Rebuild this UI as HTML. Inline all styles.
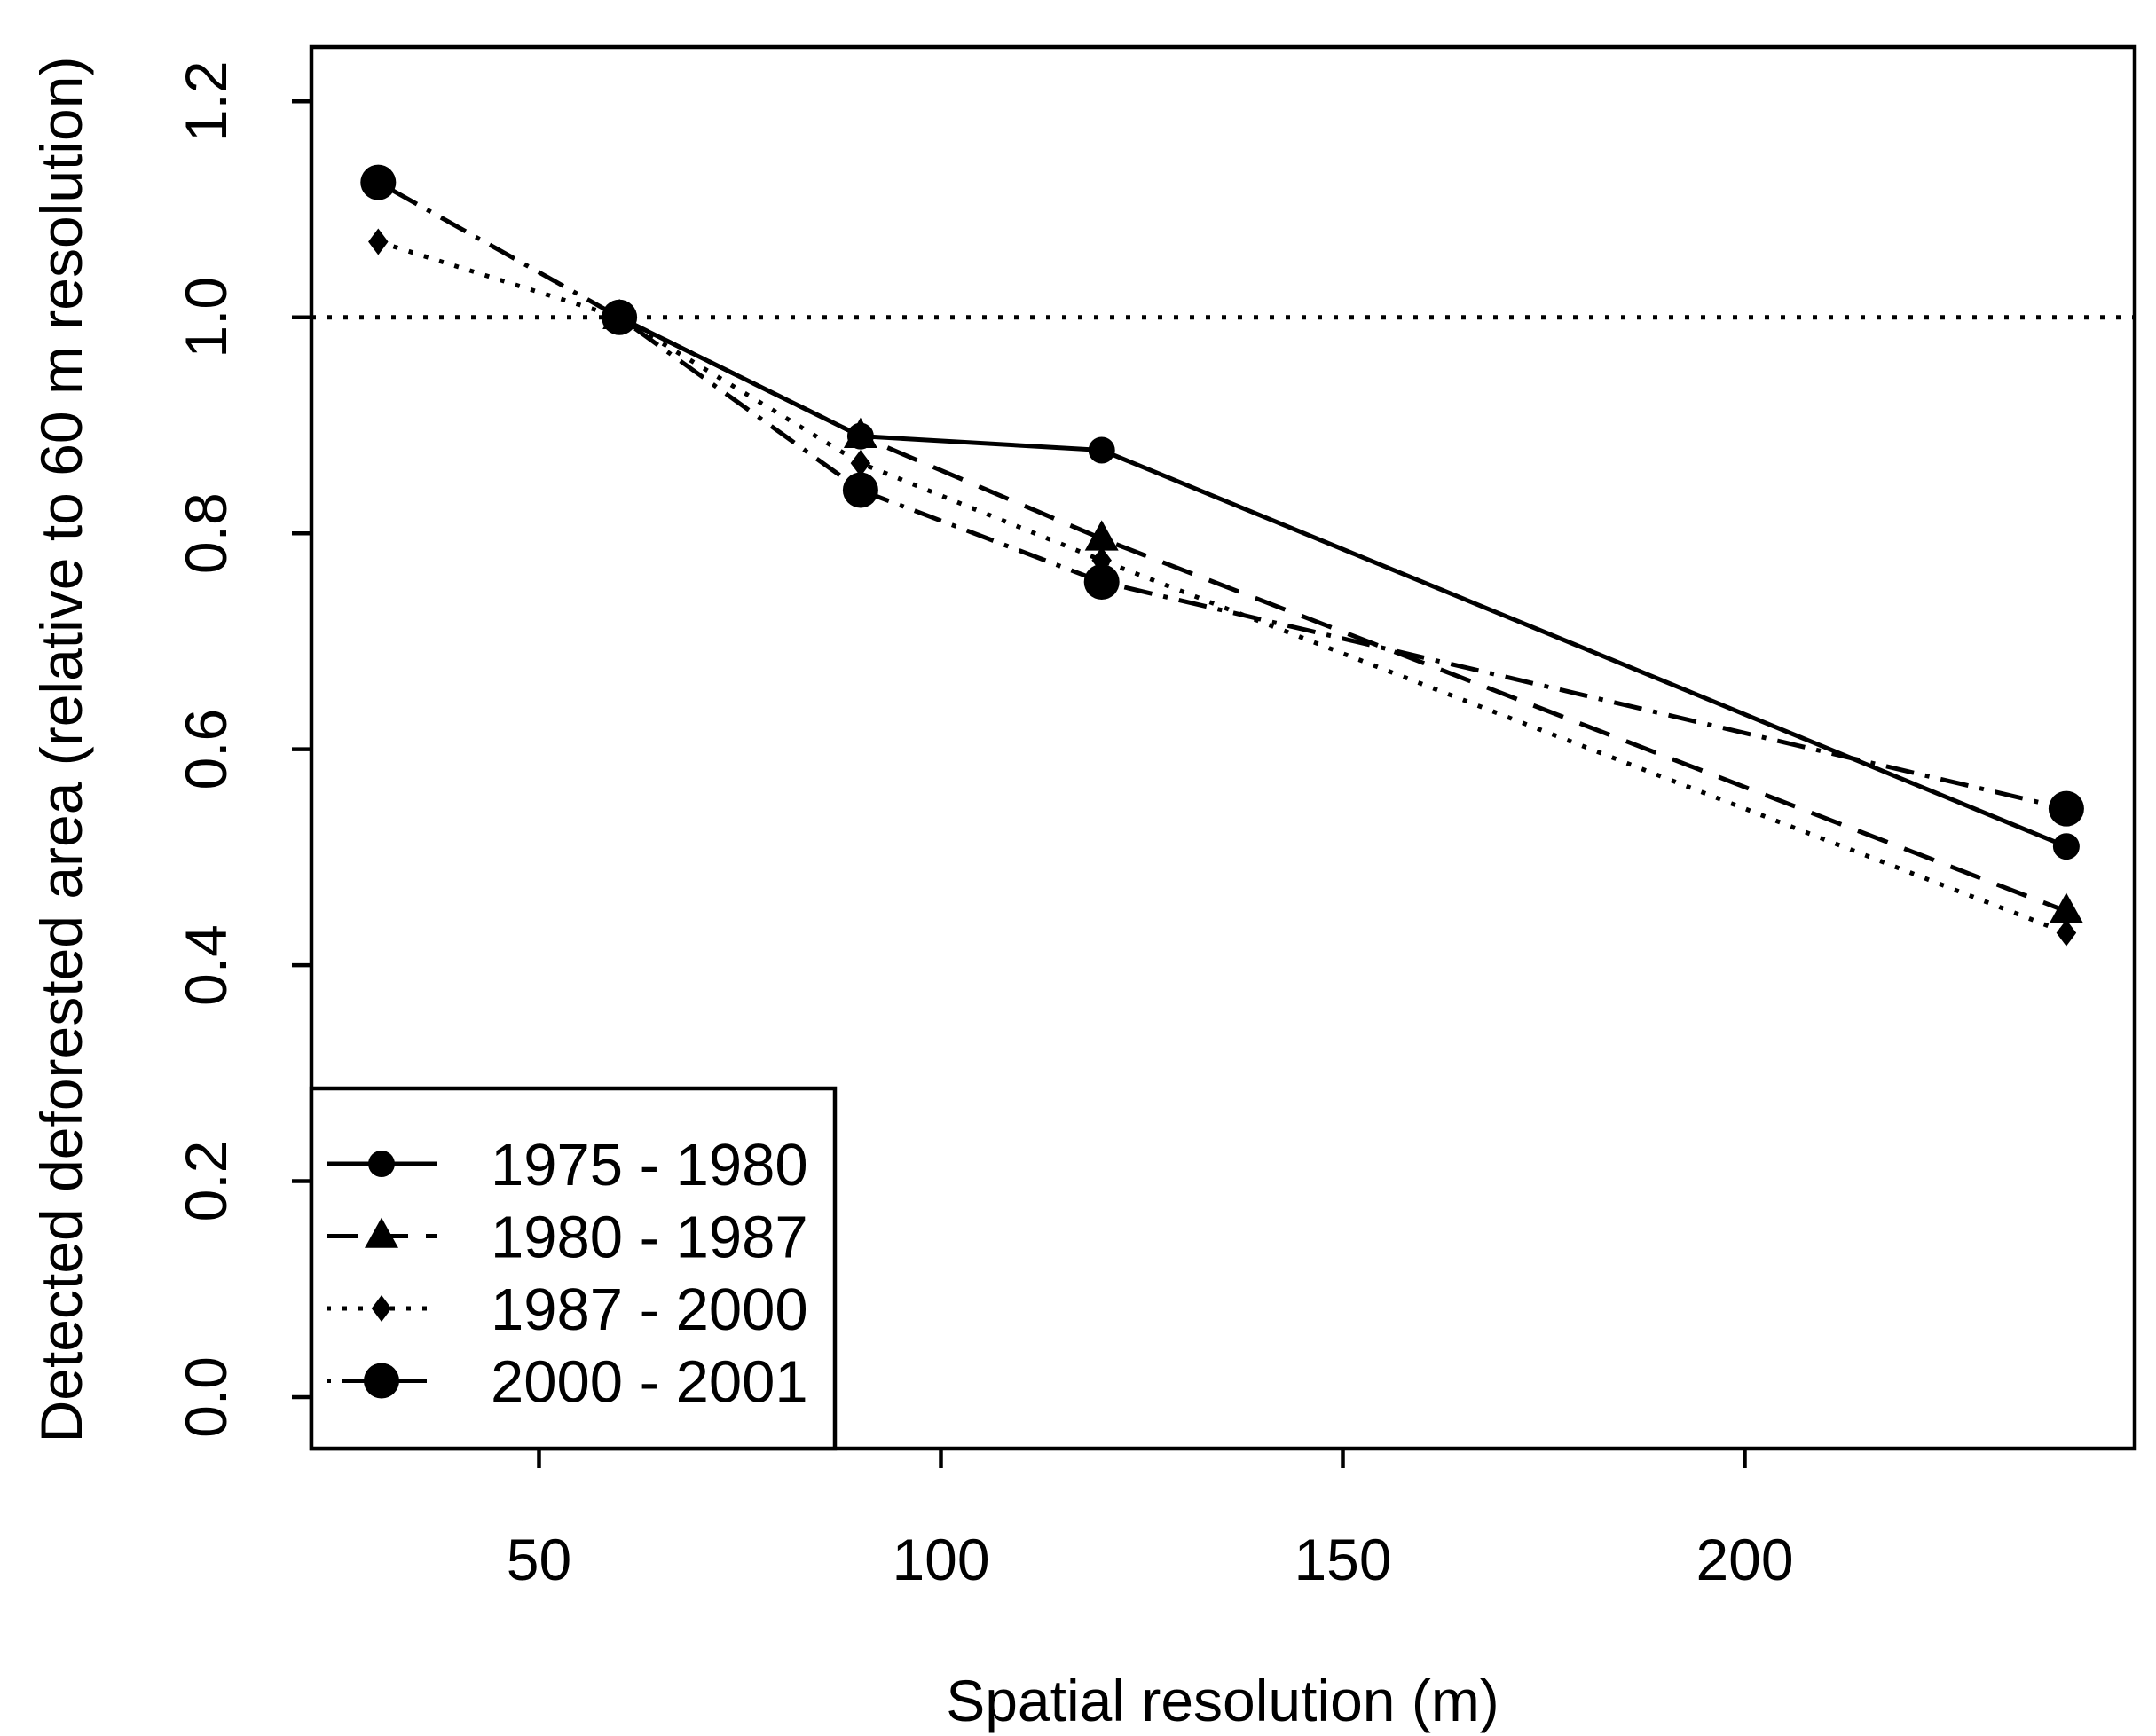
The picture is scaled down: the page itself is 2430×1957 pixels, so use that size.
<!DOCTYPE html>
<html><head><meta charset="utf-8"><style>
html,body{margin:0;padding:0;background:#fff}
svg{display:block}
text{font-family:"Liberation Sans",sans-serif;fill:#000}
</style></head><body>
<svg id="chart" width="2430" height="1957" viewBox="0 0 2430 1957" xmlns="http://www.w3.org/2000/svg">
<rect x="351" y="53" width="2055" height="1580" fill="none" stroke="#000" stroke-width="4.5"/>
<g id="xaxis"></g>
<g id="yaxis"></g>
<g id="series"></g>
<text x="1378" y="1940" font-size="66" text-anchor="middle">Spatial resolution (m)</text>
<text transform="translate(92,845) rotate(-90)" font-size="66" text-anchor="middle">Detected deforested area (relative to 60 m resolution)</text>
<g id="legend">
<rect x="351" y="1227" width="590" height="406" fill="#fff" stroke="#000" stroke-width="4.5"/>
</g>
</svg>
<script>
const xTicks=[50,100,150,200];
const yTicks=[0.0,0.2,0.4,0.6,0.8,1.0,1.2];
const yTickLabels=["0.0","0.2","0.4","0.6","0.8","1.0","1.2"];
const seriesNames=["1975 - 1980","1980 - 1987","1987 - 2000","2000 - 2001"];
const x1=[60,90,120,240];
const y1=[1.0,0.89,0.877,0.51];
const x2=[60,90,120,240];
const y2=[1.0,0.89,0.795,0.45];
const x3=[30,60,90,120,240];
const y3=[1.07,1.0,0.865,0.775,0.43];
const x4=[30,60,90,120,240];
const y4=[1.125,1.0,0.84,0.755,0.545];
const refValue=1.0;

const NS="http://www.w3.org/2000/svg";
function sx(v){return 607.5+(v-50)*(1966.5-607.5)/150;}
function sy(v){return 1575-v*(1575-114.3)/1.2;}
function mk(tag,attrs,parent){const e=document.createElementNS(NS,tag);for(const k in attrs)e.setAttribute(k,attrs[k]);parent.appendChild(e);return e;}
const xa=document.getElementById('xaxis'),ya=document.getElementById('yaxis'),sg=document.getElementById('series'),lg=document.getElementById('legend');
xTicks.forEach(t=>{
  const l=mk('line',{x1:sx(t),x2:sx(t),y1:1633,y2:1655,stroke:'#000','stroke-width':4.5},xa);
  
  
  const tx=mk('text',{x:sx(t),y:1781,'font-size':66,'text-anchor':'middle'},xa);tx.textContent=t;
  
  
});
yTicks.forEach((t,i)=>{
  const l=mk('line',{x1:329,x2:351,y1:sy(t),y2:sy(t),stroke:'#000','stroke-width':4.5},ya);
  
  
  const tx=mk('text',{transform:`translate(255,${sy(t)}) rotate(-90)`,'font-size':66,'text-anchor':'middle'},ya);tx.textContent=yTickLabels[i];
  
  
});
const ref=mk('line',{x1:351,x2:2406,y1:sy(refValue),y2:sy(refValue),stroke:'#000','stroke-width':5,'stroke-dasharray':'5 13'},sg);


const styles=[
 {dash:'',sym:'circle',r:15},
 {dash:'36 20',sym:'tri',r:19},
 {dash:'5 13',sym:'diamond',r:15},
 {dash:'5 13 32 13',sym:'circle',r:20}];
function symbol(type,r,cx,cy,parent){
  let e;
  if(type==='circle')e=mk('circle',{cx:cx,cy:cy,r:r,fill:'#000'},parent);
  else if(type==='tri')e=mk('polygon',{points:`${cx},${cy-r*1.1} ${cx+r},${cy+r*0.7} ${cx-r},${cy+r*0.7}`,fill:'#000'},parent);
  else e=mk('polygon',{points:`${cx},${cy-r} ${cx+r*0.75},${cy} ${cx},${cy+r} ${cx-r*0.75},${cy}`,fill:'#000'},parent);
  return e;
}
const XS=[x1,x2,x3,x4],YS=[y1,y2,y3,y4];
XS.forEach((xs,i)=>{
  const st=styles[i];
  const g=mk('g',{},sg);
  
  
  const pl=mk('polyline',{points:xs.map((x,j)=>sx(x)+','+sy(YS[i][j])).join(' '),fill:'none',stroke:'#000','stroke-width':5,'stroke-dasharray':st.dash},g);
  
  
  xs.forEach((x,j)=>{
    const p=symbol(st.sym,st.r,sx(x),sy(YS[i][j]),g);
    
    
  });
  const ly=1312+i*81.5;
  const ll=mk('line',{x1:368,x2:493,y1:ly,y2:ly,stroke:'#000','stroke-width':5,'stroke-dasharray':st.dash},lg);
  
  
  const ls=symbol(st.sym,st.r,430,ly,lg);
  
  
  const lt=mk('text',{x:553,y:ly+24,'font-size':67},lg);lt.textContent=seriesNames[i];
  
  
});
</script>
</body></html>
